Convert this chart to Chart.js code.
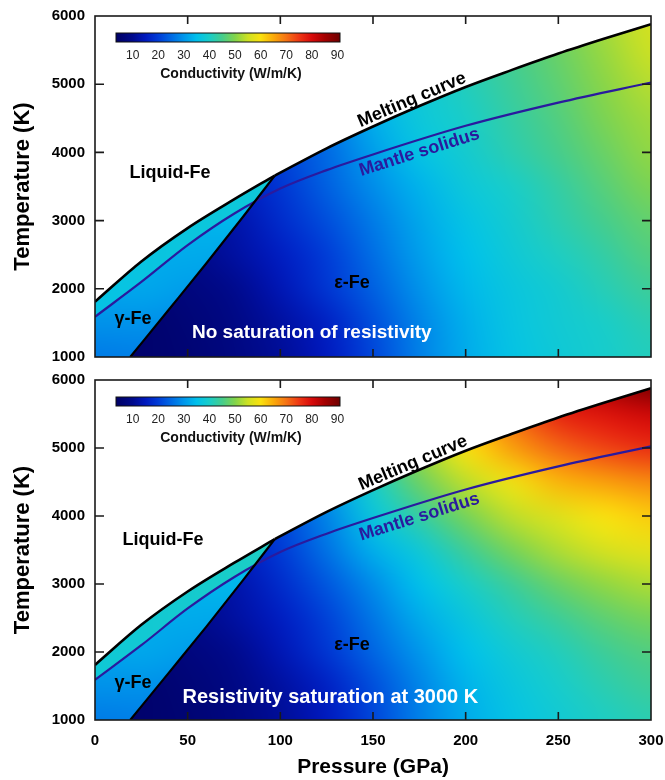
<!DOCTYPE html>
<html>
<head>
<meta charset="utf-8">
<title>Thermal conductivity of iron</title>
<script src="https://cdn.jsdelivr.net/npm/chart.js@4.4.1/dist/chart.umd.min.js"></script>
<style>
  html, body { margin: 0; padding: 0; background: #fff; }
  #wrap { position: relative; width: 665px; height: 780px; }
  .panel { position: absolute; left: 0; width: 665px; }
  #panelTop { top: 0; height: 368px; }
  #panelBottom { top: 368px; height: 412px; }
</style>
</head>
<body>
<div id="wrap">
  <div class="panel" id="panelTop"><canvas id="chartTop"></canvas></div>
  <div class="panel" id="panelBottom"><canvas id="chartBottom"></canvas></div>
</div>
<script>
'use strict';

// --- phase boundaries (P in GPa, T in K) ---
const meltLowP = [0, 25, 50, 75, 97];
const meltLowT = [1810, 2400, 2890, 3310, 3660];
const meltHighP = [97, 125, 150, 175, 200, 225, 250, 275, 300];
const meltHighT = [3660, 4060, 4380, 4680, 4960, 5210, 5450, 5670, 5880];
const solidusP = [0, 25, 50, 75, 100, 125, 150, 200, 250, 300];
const solidusT = [1590, 2100, 2640, 3100, 3470, 3740, 3970, 4390, 4730, 5025];
const gammaEpsP = [19, 40, 60, 80, 97];
const gammaEpsT = [1000, 1700, 2370, 3060, 3660];

// --- axis ticks ---
const pressureTicks = [0, 50, 100, 150, 200, 250, 300];
const tempTicks = [1000, 2000, 3000, 4000, 5000, 6000];

// --- conductivity grid for eps-Fe (W/m/K), rows follow epsTemps, columns epsPressures ---
const epsPressures = [0, 25, 50, 75, 100, 125, 150, 175, 200, 225, 250, 275, 300];
const epsTemps = [1000, 1500, 2000, 2500, 3000, 3500, 4000, 4500, 5000, 5500, 6000];
const epsNoSat = [
  [4, 5, 6, 8, 11, 15, 21, 27.5, 32.5, 36, 38, 39.5, 41],
  [4, 5, 6.5, 8.5, 12, 16, 22, 28, 33, 36.5, 38.5, 40, 42],
  [5, 6, 7.5, 10, 14, 19, 24, 29.5, 34, 37, 39, 41.5, 44],
  [6, 7, 9, 12, 15.5, 20, 25.5, 31, 35, 38, 40.5, 43, 46],
  [7, 8, 10, 13, 17.5, 22, 27, 32, 36, 39, 42, 45, 47.5],
  [8, 9, 11, 15, 19, 24, 29, 33.5, 37.5, 40, 43, 46.5, 49.5],
  [9, 10, 12, 16, 20.5, 25, 31, 36, 39, 42, 45, 48, 51],
  [10, 11, 13, 17, 22, 26.5, 33, 37.5, 40, 43, 46, 49.5, 52],
  [11, 12, 14, 18, 23, 28, 35, 38, 41, 44, 47, 50.5, 53.5],
  [12, 13, 15, 19, 24, 29, 36, 39, 42, 45, 48, 51.5, 55],
  [13, 14, 16, 20, 25, 30, 37, 40, 43, 46, 49, 52.5, 56]
];
const epsSat = [
  [4, 5, 6, 8, 11, 15, 21, 27.5, 32.5, 36, 38.5, 40.5, 42],
  [4, 5, 6.5, 8.5, 12, 16, 22, 28, 33.5, 37, 39.5, 42, 44],
  [5, 6, 7.5, 10, 14, 19, 24.5, 30, 35, 38.5, 41, 44, 46],
  [6, 7, 9, 12, 15.5, 20.5, 26.5, 32.5, 37, 41, 44, 47, 49],
  [7, 8, 10, 13, 17.5, 23, 29, 35, 40, 44, 48, 51, 53],
  [8, 9, 11, 15, 19.5, 26, 33, 38, 44, 49, 53, 56, 57.5],
  [9, 10, 12, 16, 21, 28, 37, 43, 49, 54, 57, 60, 62],
  [10, 11, 13, 17, 22.5, 31, 40, 48, 54, 59, 64, 66, 68],
  [11, 12, 14, 18, 24, 34, 43, 52, 60, 66, 71, 74, 76],
  [12, 13, 15, 19, 25, 36, 46, 55, 64, 71, 77, 79, 81],
  [13, 14, 16, 20, 26, 38, 49, 58, 68, 76, 82, 86, 91]
];

// --- gamma-Fe: below the mantle solidus, and the band between solidus and melting ---
const gammaPressures = [0, 25, 50, 75, 100];
const gammaTemps = [1000, 1500, 2000, 2500, 3000, 3500, 4000];
const gammaBelow = [
  [27, 27.5, 28, 28.5, 29],
  [29.5, 29.5, 29, 29.5, 30],
  [31.5, 32, 31, 31, 31],
  [32, 32.5, 32.5, 32, 32],
  [33, 33, 33.5, 34, 34],
  [34, 34, 35, 35, 35.5],
  [35, 35, 36, 36, 36]
];
const gammaBandNoSat = [[36, 36.5, 37, 37.5, 38]];
const gammaBandSat = [[38, 38.5, 39, 40, 40.5]];
const bandTemps = [3500];

// --- colour scale ---
const cbMin = 3.5;
const cbMax = 91;
const cbTicks = [10, 20, 30, 40, 50, 60, 70, 80, 90];
const cbStops = [3.5, 10, 15, 20, 25, 30, 35, 40, 45, 50, 55, 60, 65, 70, 75, 80, 85, 91];
const cbColors = [
  [0, 0, 100], [0, 10, 140], [0, 25, 190], [0, 60, 215], [0, 105, 228], [0, 150, 235],
  [0, 192, 235], [25, 205, 200], [70, 205, 140], [130, 212, 75], [205, 225, 35], [250, 225, 15],
  [250, 170, 10], [245, 115, 20], [238, 55, 20], [215, 10, 10], [165, 0, 0], [110, 0, 0]
];

const FONT = "'Liberation Sans', Arial, Helvetica, sans-serif";
const SOLIDUS_COLOR = '#2a1a9e';
Chart.defaults.font.family = FONT;
Chart.defaults.color = '#000';

function conductivityColor(v) {
  if (v <= cbStops[0]) return cbColors[0];
  for (let i = 1; i < cbStops.length; i++) {
    if (v <= cbStops[i]) {
      const f = (v - cbStops[i - 1]) / (cbStops[i] - cbStops[i - 1]);
      const a = cbColors[i - 1], b = cbColors[i];
      return a.map((c, k) => Math.round(c + (b[k] - c) * f));
    }
  }
  return cbColors[cbColors.length - 1];
}

const rgb = c => `rgb(${c[0]},${c[1]},${c[2]})`;

// one pixel per grid node; the canvas smooths it when stretched onto the axes
function fieldCanvas(values) {
  const rows = values.length, cols = values[0].length;
  const c = document.createElement('canvas');
  c.width = cols;
  c.height = rows;
  const g = c.getContext('2d');
  const img = g.createImageData(cols, rows);
  values.forEach((row, j) => row.forEach((v, i) => {
    const col = conductivityColor(v);
    img.data.set([col[0], col[1], col[2], 255], ((rows - 1 - j) * cols + i) * 4);
  }));
  g.putImageData(img, 0, 0);
  return c;
}

function paintField(chart, img, ps, ts) {
  const {ctx, scales: {x, y}} = chart;
  const dp = ps[1] - ps[0];
  const dt = ts.length > 1 ? ts[1] - ts[0] : 20000;
  const x0 = x.getPixelForValue(ps[0] - dp / 2);
  const x1 = x.getPixelForValue(ps[ps.length - 1] + dp / 2);
  const y0 = y.getPixelForValue(ts[ts.length - 1] + dt / 2);
  const y1 = y.getPixelForValue(ts[0] - dt / 2);
  ctx.imageSmoothingEnabled = true;
  ctx.imageSmoothingQuality = 'high';
  ctx.drawImage(img, x0, y0, x1 - x0, y1 - y0);
}

function curvePoints(chart, index) {
  const meta = chart.getDatasetMeta(index);
  meta.dataset.updateControlPoints(chart.chartArea, 'x');
  return meta.data;
}

function traceCurve(ctx, pts, reverse) {
  const list = reverse ? [...pts].reverse() : pts;
  list.forEach((p, i) => {
    if (i === 0) { ctx.lineTo(p.x, p.y); return; }
    const q = list[i - 1];
    if (reverse) ctx.bezierCurveTo(q.cp1x, q.cp1y, p.cp2x, p.cp2y, p.x, p.y);
    else ctx.bezierCurveTo(q.cp2x, q.cp2y, p.cp1x, p.cp1y, p.x, p.y);
  });
}

function clipArea(ctx, a) {
  ctx.beginPath();
  ctx.rect(a.left, a.top, a.right - a.left, a.bottom - a.top);
  ctx.clip();
}

function fieldPlugin(panel) {
  const epsImg = fieldCanvas(panel.eps);
  const gammaImg = fieldCanvas(gammaBelow);
  const bandImg = fieldCanvas(panel.band);
  return {
    id: 'phaseField',
    beforeDatasetsDraw(chart) {
      const {ctx, chartArea: a, scales: {x, y}} = chart;
      const meltLow = curvePoints(chart, 0);
      const meltHigh = curvePoints(chart, 1);
      const boundary = curvePoints(chart, 2);
      const solidus = curvePoints(chart, 3);

      ctx.save();
      clipArea(ctx, a);

      // solid iron: everything under the melting curve
      ctx.save();
      ctx.beginPath();
      traceCurve(ctx, meltLow, false);
      traceCurve(ctx, meltHigh, false);
      ctx.lineTo(a.right + 4, a.bottom + 4);
      ctx.lineTo(a.left - 4, a.bottom + 4);
      ctx.closePath();
      ctx.clip();
      paintField(chart, epsImg, epsPressures, epsTemps);
      ctx.restore();

      // gamma-Fe wedge
      ctx.beginPath();
      traceCurve(ctx, meltLow, false);
      traceCurve(ctx, boundary, true);
      ctx.lineTo(x.getPixelForValue(0) - 4, y.getPixelForValue(1000) + 4);
      ctx.closePath();
      ctx.clip();
      paintField(chart, gammaImg, gammaPressures, gammaTemps);

      // gamma-Fe above the mantle solidus
      ctx.beginPath();
      traceCurve(ctx, solidus, false);
      ctx.lineTo(a.right + 4, a.top - 4);
      ctx.lineTo(a.left - 4, a.top - 4);
      ctx.closePath();
      ctx.clip();
      paintField(chart, bandImg, gammaPressures, bandTemps);
      ctx.restore();
    }
  };
}

function overlayPlugin(panel) {
  return {
    id: 'overlay',
    afterDatasetsDraw(chart) {
      const {ctx, chartArea: a, scales: {x, y}} = chart;
      ctx.save();

      // frame with inward ticks on all four sides
      ctx.strokeStyle = '#1a1a1a';
      ctx.lineWidth = 1.6;
      ctx.strokeRect(a.left, a.top, a.right - a.left, a.bottom - a.top);
      ctx.beginPath();
      pressureTicks.slice(1, -1).forEach(p => {
        const px = x.getPixelForValue(p);
        ctx.moveTo(px, a.top); ctx.lineTo(px, a.top + 8);
        ctx.moveTo(px, a.bottom); ctx.lineTo(px, a.bottom - 8);
      });
      tempTicks.slice(1, -1).forEach(t => {
        const py = y.getPixelForValue(t);
        ctx.moveTo(a.left, py); ctx.lineTo(a.left + 9, py);
        ctx.moveTo(a.right, py); ctx.lineTo(a.right - 9, py);
      });
      ctx.stroke();

      // colour bar
      const cbLeft = a.left + 21, cbRight = a.left + 245, cbTop = a.top + 17, cbH = 9;
      const cbX = v => cbLeft + (v - cbMin) / (cbMax - cbMin) * (cbRight - cbLeft);
      const grad = ctx.createLinearGradient(cbLeft, 0, cbRight, 0);
      cbStops.forEach((s, i) => grad.addColorStop((s - cbMin) / (cbMax - cbMin), rgb(cbColors[i])));
      ctx.fillStyle = grad;
      ctx.fillRect(cbLeft, cbTop, cbRight - cbLeft, cbH);
      ctx.lineWidth = 1;
      ctx.strokeStyle = '#111';
      ctx.strokeRect(cbLeft, cbTop, cbRight - cbLeft, cbH);
      ctx.fillStyle = '#222';
      ctx.font = `12px ${FONT}`;
      ctx.textAlign = 'center';
      ctx.textBaseline = 'middle';
      cbTicks.forEach(v => ctx.fillText(String(v), cbX(v), cbTop + 23));
      ctx.fillStyle = '#111';
      ctx.font = `bold 14px ${FONT}`;
      ctx.fillText('Conductivity (W/m/K)', (cbLeft + cbRight) / 2 + 3, cbTop + 41);

      // region and curve labels
      panel.labels.forEach(l => {
        ctx.save();
        ctx.translate(x.getPixelForValue(l.p), y.getPixelForValue(l.t));
        ctx.rotate((l.angle || 0) * Math.PI / 180);
        ctx.fillStyle = l.color || '#000';
        ctx.font = `bold ${l.size}px ${FONT}`;
        ctx.fillText(l.text, 0, 0);
        ctx.restore();
      });
      ctx.restore();
    }
  };
}

function curve(ps, ts, color, width) {
  return {
    data: ps.map((p, i) => ({x: p, y: ts[i]})),
    showLine: true,
    borderColor: color,
    borderWidth: width,
    pointRadius: 0,
    fill: false,
    cubicInterpolationMode: 'monotone'
  };
}

function buildPanel(canvasId, panel) {
  return new Chart(document.getElementById(canvasId), {
    type: 'scatter',
    data: {
      datasets: [
        curve(meltLowP, meltLowT, '#000', 2.6),
        curve(meltHighP, meltHighT, '#000', 2.6),
        curve(gammaEpsP, gammaEpsT, '#000', 2.2),
        curve(solidusP, solidusT, SOLIDUS_COLOR, 2.2)
      ]
    },
    options: {
      responsive: true,
      maintainAspectRatio: false,
      animation: false,
      events: [],
      layout: {padding: {top: panel.padTop, right: 14, left: 0, bottom: 0}},
      plugins: {legend: {display: false}, tooltip: {enabled: false}},
      scales: {
        x: {
          type: 'linear',
          min: 0,
          max: 300,
          afterBuildTicks: s => { s.ticks = pressureTicks.map(v => ({value: v})); },
          grid: {display: false, drawTicks: false},
          border: {display: false},
          ticks: {
            display: panel.showPressure,
            font: {size: 15, weight: 'bold'},
            padding: 12,
            maxRotation: 0,
            callback: v => String(v)
          },
          title: {
            display: panel.showPressure,
            text: 'Pressure (GPa)',
            font: {size: 21, weight: 'bold'},
            padding: {top: 0, bottom: 0}
          },
          afterFit: s => {
            s.height = panel.xHeight;
            s.paddingLeft = 0;
            s.paddingRight = 0;
          }
        },
        y: {
          type: 'linear',
          min: 1000,
          max: 6000,
          afterBuildTicks: s => { s.ticks = tempTicks.map(v => ({value: v})); },
          grid: {display: false, drawTicks: false},
          border: {display: false},
          ticks: {font: {size: 15, weight: 'bold'}, padding: 10, callback: v => String(v)},
          title: {
            display: true,
            text: 'Temperature (K)',
            font: {size: 22, weight: 'bold'},
            padding: {top: 10, bottom: 0}
          },
          afterFit: s => {
            s.width = 95;
            s.paddingTop = 0;
            s.paddingBottom = 0;
          }
        }
      }
    },
    plugins: [fieldPlugin(panel), overlayPlugin(panel)]
  });
}

buildPanel('chartTop', {
  eps: epsNoSat,
  band: gammaBandNoSat,
  padTop: 16,
  xHeight: 11,
  showPressure: false,
  labels: [
    {text: 'Liquid-Fe', p: 40.5, t: 3700, size: 18},
    {text: 'γ-Fe', p: 20.5, t: 1557, size: 18},
    {text: 'ε-Fe', p: 138.7, t: 2085, size: 18},
    {text: 'Melting curve', p: 171, t: 4770, size: 18, angle: -23},
    {text: 'Mantle solidus', p: 175, t: 4000, size: 18, angle: -17.5, color: SOLIDUS_COLOR},
    {text: 'No saturation of resistivity', p: 117, t: 1352, size: 19, color: '#fff'}
  ]
});

buildPanel('chartBottom', {
  eps: epsSat,
  band: gammaBandSat,
  padTop: 12,
  xHeight: 60,
  showPressure: true,
  labels: [
    {text: 'Liquid-Fe', p: 36.7, t: 3647, size: 18},
    {text: 'γ-Fe', p: 20.5, t: 1544, size: 18},
    {text: 'ε-Fe', p: 138.7, t: 2100, size: 18},
    {text: 'Melting curve', p: 171.6, t: 4779, size: 18, angle: -23},
    {text: 'Mantle solidus', p: 175, t: 3985, size: 18, angle: -17.5, color: SOLIDUS_COLOR},
    {text: 'Resistivity saturation at 3000 K', p: 127, t: 1338, size: 20, color: '#fff'}
  ]
});
</script>
</body>
</html>
